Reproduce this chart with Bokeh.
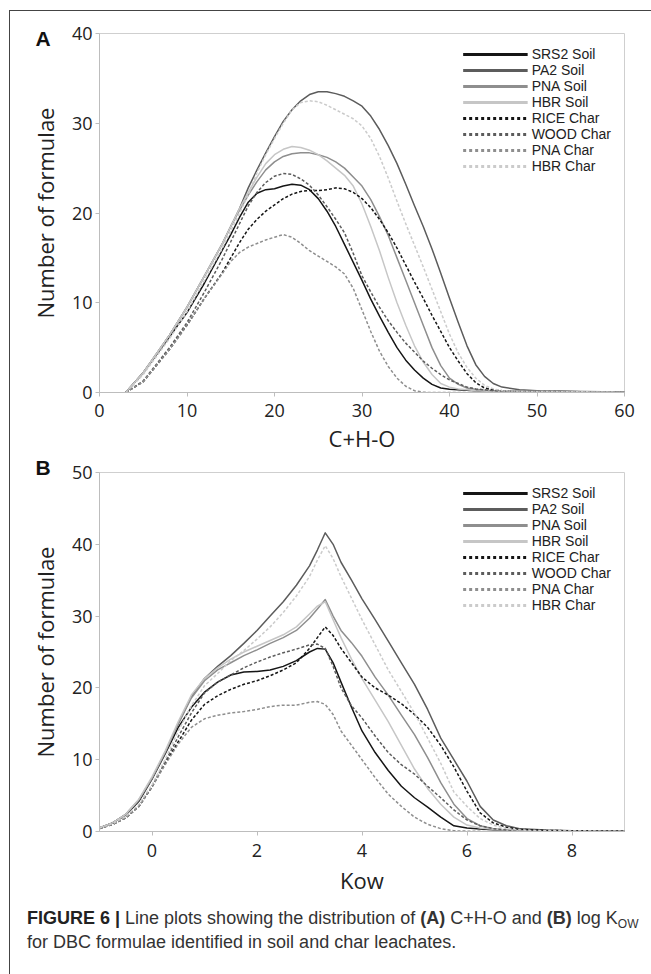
from bokeh.plotting import figure
from bokeh.models import (Range1d, FixedTicker, Legend, LegendItem, Title, Div, ColumnDataSource)
from bokeh.layouts import column
from bokeh.embed import file_html
from bokeh.resources import INLINE

NAN = float("nan")

# ---------------- data: panel A (C+H-O) ----------------
xa = [3, 5, 8, 10, 12, 14, 15, 16, 17, 18, 19, 20, 21, 22, 23, 24, 25, 26, 27, 28, 29, 30,
      31, 32, 33, 34, 35, 36, 37, 38, 39, 40, 41, 42, 43, 44, 45, 46, 48, 50, 52, 55, 60]
a_srs2_soil = [0, 2.2, 6.2, 8.9, 12.2, 15.8, 17.6, 19.5, 21.2, 22.2, 22.6, 22.7, 23.0, 23.2, 23.1, 22.6,
               21.6, 20.2, 18.5, 16.5, 14.5, 12.5, 10.4, 8.5, 6.7, 5.0, 3.6, 2.5, 1.6, 0.9, 0.5, 0.35,
               0.3, 0.25, 0.2, 0.15, 0.12, 0.1, 0.1, 0.1, 0.08, 0.05, 0.02]
a_pa2_soil = [0, 2.2, 6.4, 9.5, 13.0, 16.5, 18.5, 20.5, 22.8, 24.8, 26.7, 28.5, 30.2, 31.5, 32.5, 33.2,
              33.5, 33.5, 33.3, 33.0, 32.5, 31.9, 30.8, 29.3, 27.5, 25.5, 23.2, 20.8, 18.5, 16.0, 13.3,
              10.5, 7.8, 5.2, 3.1, 1.8, 1.0, 0.6, 0.3, 0.2, 0.2, 0.12, 0.05]
a_pna_soil = [0, 2.2, 6.4, 9.5, 13.0, 16.5, 18.5, 20.3, 22.0, 23.5, 24.8, 25.7, 26.3, 26.6, 26.7, 26.7,
              26.5, 26.2, 25.7, 25.0, 24.0, 23.0, 21.5, 19.6, 17.5, 15.0, 12.5, 10.0, 7.5, 5.0, 3.0,
              1.6, 0.9, 0.5, 0.35, 0.25, 0.2, 0.15, 0.12, 0.1, 0.1, 0.08, 0.03]
a_hbr_soil = [0, 2.2, 6.4, 9.5, 13.0, 16.5, 18.5, 20.5, 22.3, 24.0, 25.5, 26.5, 27.1, 27.4, 27.3, 27.0,
              26.5, 25.8, 25.0, 24.2, 23.0, 21.0, 18.5, 15.8, 12.8, 10.0, 7.5, 5.2, 3.4, 2.0, 1.0,
              0.6, 0.4, 0.3, 0.2, 0.15, 0.12, 0.1, 0.1, 0.1, 0.1, 0.08, 0.03]
a_rice_char = [0, 1.2, 4.8, 7.5, 10.5, 13.3, 15.0, 16.7, 18.2, 19.3, 20.2, 20.9, 21.6, 22.1, 22.4, 22.5,
               22.5, 22.6, 22.8, 22.7, 22.3, 21.6, 20.6, 19.3, 17.8, 16.1, 14.2, 12.3, 10.5, 8.6, 6.8,
               5.0, 3.5, 2.1, 1.1, 0.5, 0.3, 0.2, 0.12, 0.1, 0.08, 0.05, 0.02]
a_wood_char = [0, 1.3, 5.0, 7.8, 11.2, 14.8, 16.8, 18.8, 20.8, 22.3, 23.4, 24.1, 24.4, 24.3, 23.8, 23.1,
               22.0, 20.7, 19.3, 17.8, 15.5, 13.0, 11.2, 9.5, 8.0, 6.7, 5.5, 4.5, 3.5, 2.7, 2.0,
               1.4, 1.0, 0.6, 0.4, 0.3, 0.2, 0.15, 0.1, 0.1, 0.08, 0.05, 0.02]
a_pna_char = [0, 1.2, 4.8, 7.5, 10.5, 13.2, 14.6, 15.6, 16.2, 16.6, 17.0, 17.3, 17.6, 17.3, 16.6, 15.8,
              15.2, 14.6, 14.0, 13.2, 11.6, 9.2, 6.8, 4.6, 2.9, 1.6, 0.7, 0.2, 0.02, 0, 0,
              0, 0, 0, 0, 0, 0, 0, 0, 0, 0, 0, 0]
a_hbr_char = [0, 2.0, 6.0, 9.0, 12.5, 16.0, 18.0, 20.0, 22.0, 24.5, 26.5, 28.3, 30.0, 31.5, 32.3, 32.5,
              32.4, 32.0, 31.5, 31.0, 30.5, 29.7, 28.3, 26.3, 23.9, 21.3, 18.8, 16.4, 14.0, 11.5, 9.0,
              6.5, 4.4, 2.8, 1.6, 0.8, 0.4, 0.2, 0.15, 0.1, 0.1, 0.08, 0.03]

# ---------------- data: panel B (Kow) ----------------
xb = [-1, -0.75, -0.5, -0.25, 0, 0.25, 0.5, 0.75, 1, 1.25, 1.5, 1.75, 2, 2.25, 2.5, 2.75, 3, 3.15,
      3.3, 3.45, 3.6, 3.8, 4, 4.25, 4.5, 4.75, 5, 5.25, 5.5, 5.75, 6, 6.25, 6.5, 6.75, 7, 7.5, 8, 8.5, 9]
b_srs2_soil = [0.5, 1.2, 2.3, 4.2, 7.3, 10.8, 14.5, 17.3, 19.4, 20.8, 21.8, 22.2, 22.3, 22.5, 23.0, 23.8,
               25.0, 25.5, 25.4, 23.5, 20.8, 17.3, 14.0, 11.0, 8.5, 6.3, 4.7, 3.4, 2.0, 0.8, 0.5, 0.35,
               0.25, 0.2, 0.15, 0.1, 0.08, 0.05, 0.03]
b_pa2_soil = [0.5, 1.2, 2.4, 4.4, 7.4, 11.0, 15.0, 18.8, 21.3, 23.0, 24.5, 26.2, 28.0, 30.0, 32.0, 34.3,
              37.0, 39.2, 41.6, 40.0, 37.5, 35.0, 32.4, 29.5, 26.5, 23.5, 20.5, 17.0, 13.0, 10.0, 7.0,
              3.5, 1.6, 0.8, 0.4, 0.2, 0.1, 0.08, 0.05]
b_pna_soil = [0.5, 1.2, 2.4, 4.4, 7.4, 11.0, 15.0, 18.6, 21.0, 22.5, 23.5, 24.5, 25.3, 26.2, 27.0, 28.0,
              29.7, 31.0, 32.3, 30.0, 28.0, 26.3, 24.4, 21.5, 19.0, 16.2, 13.5, 10.3, 6.8, 3.8, 1.8,
              0.8, 0.4, 0.2, 0.15, 0.1, 0.08, 0.05, 0.03]
b_hbr_soil = [0.5, 1.2, 2.4, 4.5, 7.6, 11.2, 15.3, 19.0, 21.3, 22.8, 24.0, 25.0, 25.8, 26.6, 27.4, 28.5,
              30.3, 31.4, 32.0, 29.5, 27.0, 24.0, 21.3, 18.3, 15.3, 12.0, 8.7, 6.0, 3.8, 2.0, 0.9,
              0.5, 0.3, 0.2, 0.12, 0.1, 0.08, 0.05, 0.03]
b_rice_char = [0.4, 1.0, 1.9, 3.5, 6.2, 9.5, 12.5, 15.5, 17.7, 18.9, 19.8, 20.5, 21.0, 21.7, 22.5, 23.5,
               25.5, 27.0, 28.5, 27.3, 25.5, 23.5, 21.5, 20.0, 19.0, 17.8, 16.3, 14.5, 12.0, 9.0, 5.6,
               2.6, 1.2, 0.6, 0.3, 0.15, 0.1, 0.08, 0.05]
b_wood_char = [0.4, 1.0, 1.9, 3.5, 6.3, 9.7, 13.2, 16.5, 19.3, 20.8, 21.8, 22.8, 23.6, 24.3, 24.9, 25.4,
               26.0, 26.1, 25.5, 23.0, 20.0, 17.5, 15.8, 13.3, 11.0, 9.3, 8.0, 6.3, 4.7, 3.0, 1.6,
               0.8, 0.4, 0.2, 0.12, 0.1, 0.08, 0.05, 0.03]
b_pna_char = [0.4, 1.0, 1.9, 3.5, 6.2, 9.3, 12.2, 14.5, 15.7, 16.2, 16.5, 16.7, 17.0, 17.4, 17.6, 17.6,
              18.0, 18.1, 17.7, 16.3, 14.0, 12.0, 10.0, 7.5, 5.2, 3.5, 2.0, 1.0, 0.4, 0.1, 0.05,
              0.02, 0, 0, 0, 0, 0, 0, 0]
b_hbr_char = [0.5, 1.1, 2.1, 3.8, 6.5, 10.0, 14.0, 17.5, 20.3, 22.0, 23.8, 25.2, 26.8, 28.5, 30.5, 32.8,
              35.5, 37.8, 39.8, 38.0, 35.5, 32.5, 29.5, 26.0, 22.5, 19.5, 16.5, 13.0, 9.5, 5.5, 3.5,
              1.8, 0.9, 0.4, 0.2, 0.1, 0.08, 0.05, 0.03]

series_names = ["SRS2 Soil", "PA2 Soil", "PNA Soil", "HBR Soil",
                "RICE Char", "WOOD Char", "PNA Char", "HBR Char"]
a_values = [a_srs2_soil, a_pa2_soil, a_pna_soil, a_hbr_soil,
            a_rice_char, a_wood_char, a_pna_char, a_hbr_char]
b_values = [b_srs2_soil, b_pa2_soil, b_pna_soil, b_hbr_soil,
            b_rice_char, b_wood_char, b_pna_char, b_hbr_char]

a_xticks = [0, 10, 20, 30, 40, 50, 60]
a_yticks = [0, 10, 20, 30, 40]
b_xticks = [0, 2, 4, 6, 8]
b_yticks = [0, 10, 20, 30, 40, 50]

# ---------------- styles ----------------
colors = ["#151515", "#5c5c5c", "#8e8e8e", "#c6c6c6",
          "#151515", "#5c5c5c", "#8e8e8e", "#cbcbcb"]
dashes = ["solid"] * 4 + ["3 2"] * 4
legend_dashes = ["solid"] * 4 + ["3 3"] * 4

AX_COLOR = "#bdbdbd"
TXT = "#222222"
FONT = "Open Sans"

FRAME_W, FRAME_H = 525, 359


def make_panel(xs, values, xr, yr, xticks, yticks, xlabel, letter, letter_standoff,
               top, bottom, tick_standoff, label_standoff):
    p = figure(width=636, height=top + FRAME_H + bottom,
               frame_width=FRAME_W, frame_height=FRAME_H,
               min_border_left=89, min_border_right=22,
               min_border_top=top, min_border_bottom=bottom,
               x_range=Range1d(*xr), y_range=Range1d(*yr),
               output_backend="svg", toolbar_location=None, tools="")
    p.grid.visible = False
    p.outline_line_color = "#cfcfcf"
    p.outline_line_width = 1
    for ax, ticks in ((p.xaxis[0], xticks), (p.yaxis[0], yticks)):
        ax.ticker = FixedTicker(ticks=ticks)
        ax.axis_line_color = AX_COLOR
        ax.major_tick_line_color = AX_COLOR
        ax.minor_tick_line_color = None
        ax.major_tick_out = 4
        ax.major_tick_in = 0
        ax.major_label_text_font = FONT
        ax.major_label_text_font_size = "18px"
        ax.major_label_text_color = TXT
        ax.axis_label_text_font = FONT
        ax.axis_label_text_font_size = "22px"
        ax.axis_label_text_font_style = "normal"
        ax.axis_label_text_color = TXT
    xax = p.xaxis[0]
    xax.axis_label = xlabel
    p.yaxis[0].axis_label = "Number of formulae"
    xax.major_label_standoff = tick_standoff
    p.yaxis[0].major_label_standoff = 3
    xax.axis_label_standoff = label_standoff
    p.yaxis[0].axis_label_standoff = 9

    for vals, c, d in zip(values, colors, dashes):
        src = ColumnDataSource(dict(x=xs, y=vals))
        p.line("x", "y", source=src, line_color=c, line_width=1.5,
               line_dash=d, line_join="round")

    items = []
    for name, c, d in zip(series_names, colors, legend_dashes):
        r = p.line(x=[NAN, NAN], y=[NAN, NAN], line_color=c, line_width=3.2, line_dash=d)
        items.append(LegendItem(label=name, renderers=[r]))
    leg = Legend(items=items, location="top_right",
                 glyph_width=65, glyph_height=16, label_height=16,
                 spacing=0, padding=13, margin=0, label_standoff=4,
                 label_text_font="Liberation Sans", label_text_font_size="14px",
                 label_text_color=TXT, border_line_alpha=0, background_fill_alpha=0)
    p.add_layout(leg)

    # panel letter as a title, pulled left of the frame and down to the first tick
    p.add_layout(Title(text=letter, align="left", offset=-64, vertical_align="bottom",
                       standoff=letter_standoff, text_font="Liberation Sans",
                       text_font_style="bold", text_font_size="21px",
                       text_color="#111111"), "above")
    return p


pA = make_panel(xa, a_values, (0, 60), (0, 40), a_xticks, a_yticks, "C+H-O", "A", -32,
                22, 50, 7, 3)
pB = make_panel(xb, b_values, (-1, 9), (0, 50), b_xticks, b_yticks, "Kow", "B", -13,
                17, 62, 8, 5)

caption = Div(text=(
    "<div style=\"font-family:'Liberation Sans Narrow','Arial Narrow','Liberation Sans',sans-serif;"
    "font-size:18px;line-height:24px;color:#333;padding-left:12px;padding-top:4px;\">"
    "<b style='color:#222'>FIGURE 6 |</b> Line plots showing the distribution of <b>(A)</b> C+H-O "
    "and <b>(B)</b> log K<span style='font-size:12px;position:relative;top:4px;line-height:0'>OW</span><br>"
    "for DBC formulae identified in soil and char leachates.</div>"),
    width=636, height=72)

layout = column(pA, pB, caption, spacing=0,
                styles={"border": "1px solid #444444"}, margin=(10, 0, 0, 9))

html = file_html(layout, INLINE)
open("out.html", "w").write(html)
